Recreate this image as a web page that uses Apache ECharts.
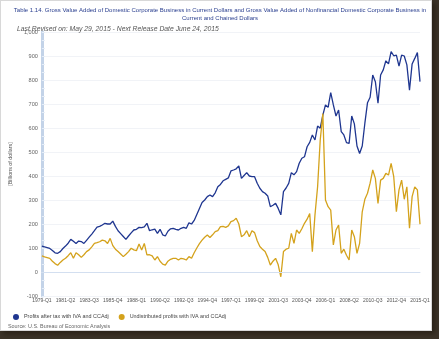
<!DOCTYPE html>
<html>
<head>
<meta charset="utf-8">
<script src="https://cdn.jsdelivr.net/npm/echarts@6/dist/echarts.min.js"></script>
<style>
  html, body { margin: 0; padding: 0; width: 439px; height: 339px; overflow: hidden; background: #3b3328; }
  #card { position: absolute; left: 0; top: 0; width: 432px; height: 331px; background: #fff;
          border: 1px solid #d8d8d8; box-sizing: border-box; box-shadow: 3px 3px 5px #2a2218; }
  #chart { position: absolute; left: 0; top: 0; width: 439px; height: 339px; }
</style>
</head>
<body>
<div id="card"></div>
<div id="chart"></div>
<script>
// Quarterly labels, 1979-Q1 through 2015-Q1
const quarters = [];
for (let y = 1979; y <= 2015; y++) {
  for (let q = 1; q <= 4; q++) {
    if (y === 2015 && q > 1) break;
    quarters.push(y + '-Q' + q);
  }
}

// Profits after tax with IVA and CCAdj, billions of dollars
const profitsAfterTax = [
  108,105,102,98,90,80,78,85,98,108,
  120,136,128,119,129,127,119,132,145,158,
  172,187,190,196,203,200,200,212,190,172,
  160,148,136,150,163,175,178,186,185,188,
  203,172,176,179,161,178,155,150,170,180,
  182,178,175,182,186,182,205,200,215,240,
  265,290,300,314,321,314,330,355,365,380,
  386,392,421,425,430,442,390,402,414,400,
  397,397,370,349,335,328,317,272,278,286,
  265,238,335,350,369,414,405,418,453,474,
  480,522,540,571,550,608,599,654,696,686,
  747,696,650,675,585,571,539,536,650,617,
  525,494,525,620,705,728,821,793,703,821,
  842,880,867,918,901,904,858,904,900,863,
  758,867,890,914,793
];

// Undistributed profits with IVA and CCAdj, billions of dollars
const undistributedProfits = [
  67,63,60,57,45,35,28,40,50,57,
  68,80,57,80,72,61,72,85,92,105,
  119,122,126,133,130,119,140,110,95,85,
  75,64,74,85,99,92,89,117,92,119,
  71,72,67,50,64,45,33,29,45,53,
  57,57,50,57,55,50,64,57,80,100,
  118,133,145,154,144,155,168,172,189,190,
  186,192,210,214,224,200,147,155,172,147,
  172,164,130,106,95,85,61,29,45,57,
  30,-20,85,95,99,161,119,175,161,180,
  203,220,244,85,238,355,550,660,300,272,
  258,113,175,196,78,95,70,50,175,147,
  78,119,251,303,328,370,425,390,286,383,
  390,411,404,453,397,251,342,383,303,355,
  182,314,355,342,199
];

const seriesNames = ['Profits after tax with IVA and CCAdj', 'Undistributed profits with IVA and CCAdj'];
const titleText = 'Table 1.14. Gross Value Added of Domestic Corporate Business in Current Dollars and Gross Value Added of Nonfinancial Domestic Corporate Business in\nCurrent and Chained Dollars';
const revisedText = 'Last Revised on: May 29, 2015 - Next Release Date June 24, 2015';
const sourceText = 'Source: U.S. Bureau of Economic Analysis';

const chart = echarts.init(document.getElementById('chart'), null, { renderer: 'canvas' });
chart.setOption({
  animation: false,
  backgroundColor: 'transparent',
  title: [
    { text: titleText, left: 215, top: 2, textAlign: 'center',
      textStyle: { fontFamily: 'Liberation Sans', fontSize: 6, fontWeight: 'normal', color: '#2a3f8f', lineHeight: 7.5 } },
    { text: revisedText, left: 12, top: 21,
      textStyle: { fontFamily: 'Liberation Sans', fontSize: 6.8, fontWeight: 'normal', fontStyle: 'italic', color: '#555' } },
    { text: sourceText, left: 3, top: 319,
      textStyle: { fontFamily: 'Liberation Sans', fontSize: 5.4, fontWeight: 'normal', color: '#666' } }
  ],
  legend: {
    left: 8, top: 309, itemWidth: 6, itemHeight: 6, itemGap: 10, icon: 'circle',
    textStyle: { fontFamily: 'Liberation Sans', fontSize: 5.4, color: '#444' },
    data: seriesNames
  },
  grid: { left: 33, right: 19, top: 32, bottom: 43 },
  xAxis: {
    type: 'category', data: quarters, boundaryGap: false,
    axisLine: { show: true, lineStyle: { color: '#d6e0ee', width: 1 } },
    axisTick: { show: false },
    axisLabel: { interval: 8, fontFamily: 'Liberation Sans', fontSize: 5, color: '#555', margin: 2 },
    splitLine: { show: false }
  },
  yAxis: {
    type: 'value', min: -100, max: 1000, interval: 100,
    name: '[Billions of dollars]', nameLocation: 'middle', nameGap: 26,
    nameTextStyle: { fontFamily: 'Liberation Sans', fontSize: 5.4, color: '#555' },
    axisLine: { show: true, lineStyle: { color: '#c3d3e8', width: 3 } },
    axisTick: { show: true, inside: true, length: 3, lineStyle: { color: '#e6eef8', width: 1 } },
    minorTick: { show: true, splitNumber: 3, length: 3, lineStyle: { color: '#e6eef8' } },
    axisLabel: { fontFamily: 'Liberation Sans', fontSize: 5.6, color: '#666', margin: 4,
      formatter: v => v.toLocaleString('en-US') },
    splitLine: { show: true, lineStyle: { color: '#f1f3f7', width: 1 } }
  },
  series: [
    { name: seriesNames[0], type: 'line', data: profitsAfterTax, color: '#1f3690',
      showSymbol: false, lineStyle: { width: 1.3 },
      markLine: { silent: true, symbol: 'none', label: { show: false },
        lineStyle: { color: '#d3dff0', width: 1, type: 'solid' }, data: [{ yAxis: 0 }] } },
    { name: seriesNames[1], type: 'line', data: undistributedProfits, color: '#d4a21c',
      showSymbol: false, lineStyle: { width: 1.3 } }
  ]
});
</script>
</body>
</html>
